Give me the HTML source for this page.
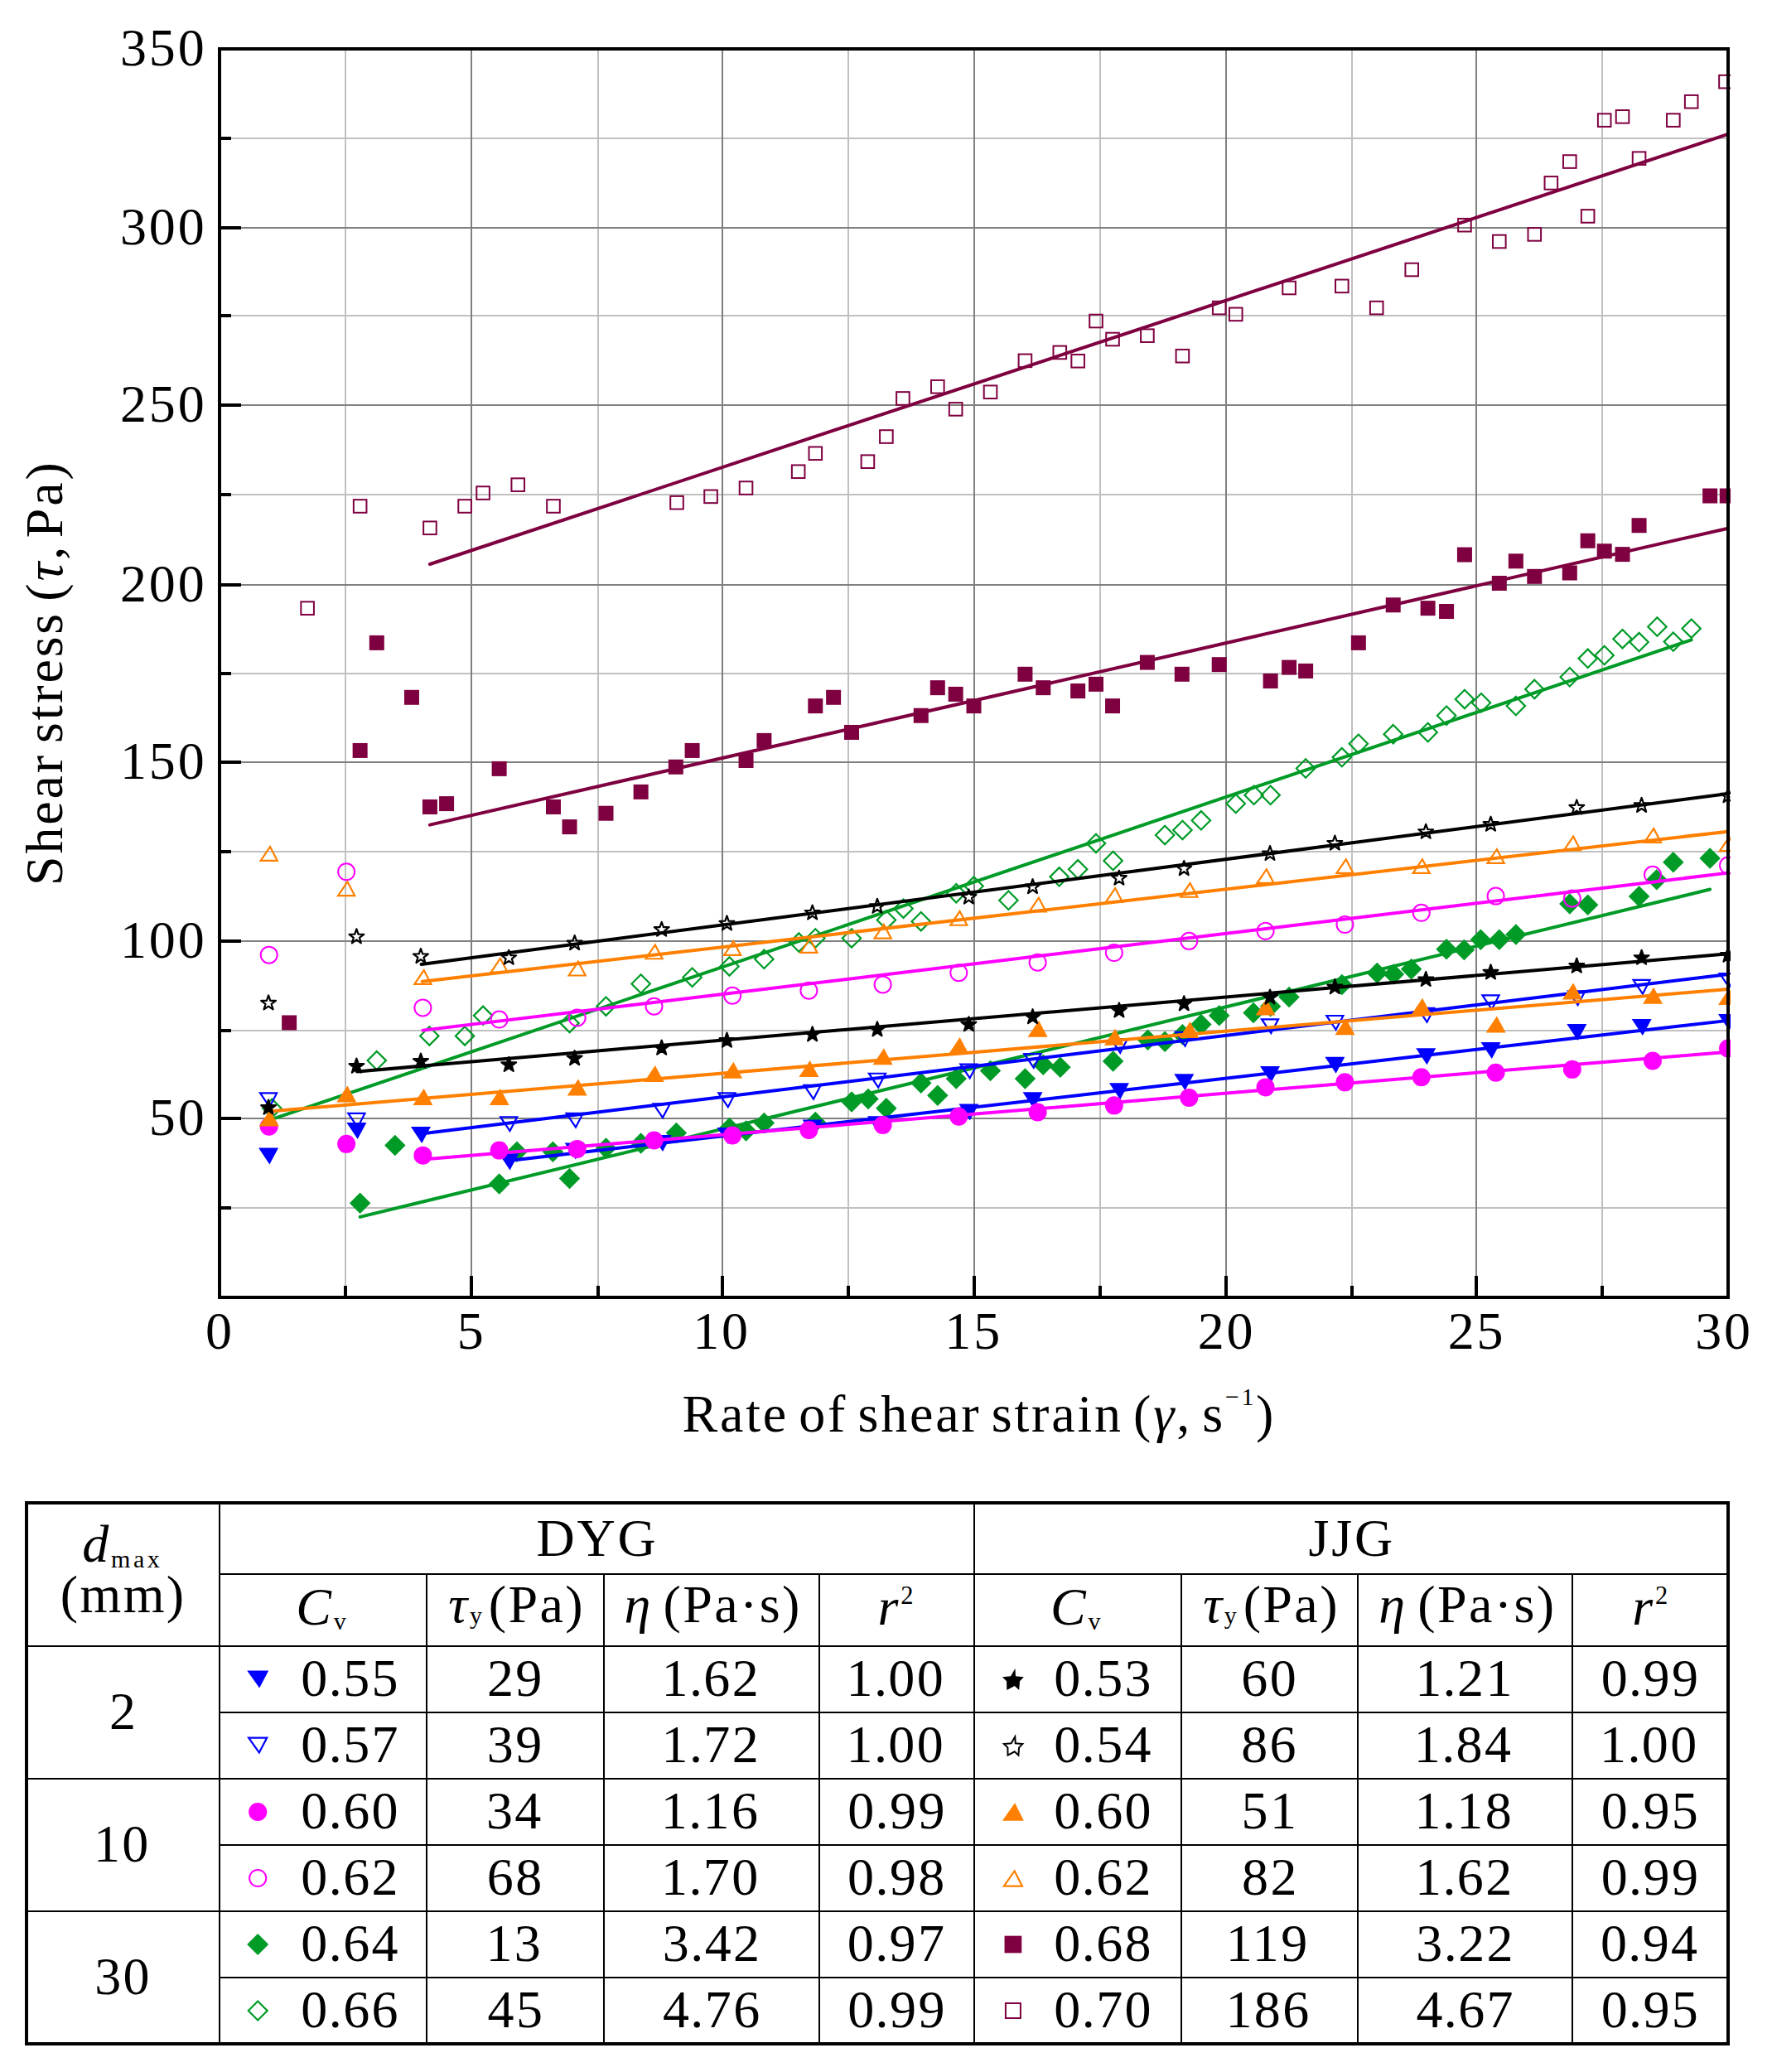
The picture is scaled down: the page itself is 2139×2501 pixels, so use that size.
<!DOCTYPE html>
<html lang="en"><head><meta charset="utf-8"><title>Shear stress vs rate of shear strain</title>
<style>
html,body{margin:0;padding:0;background:#fff;}
body{width:2139px;height:2501px;overflow:hidden;}
svg{display:block;}
text{font-family:"Liberation Serif",serif;fill:#000;}
.t{font-size:64px;letter-spacing:2.8px;word-spacing:-6.5px;}
.n{letter-spacing:2.4px;}
</style></head><body>
<svg width="2139" height="2501" viewBox="0 0 2139 2501" role="img" aria-label="Shear stress versus rate of shear strain for DYG and JJG samples, with fitted Bingham parameters">
<rect width="2139" height="2501" fill="#fff"/>
<g stroke-width="2" fill="none">
<line x1="417" y1="59" x2="417" y2="1566" stroke="#c0c0c0"/>
<line x1="722" y1="59" x2="722" y2="1566" stroke="#c0c0c0"/>
<line x1="1024" y1="59" x2="1024" y2="1566" stroke="#c0c0c0"/>
<line x1="1328" y1="59" x2="1328" y2="1566" stroke="#c0c0c0"/>
<line x1="1632" y1="59" x2="1632" y2="1566" stroke="#c0c0c0"/>
<line x1="1934" y1="59" x2="1934" y2="1566" stroke="#c0c0c0"/>
<line x1="265" y1="167" x2="2086" y2="167" stroke="#c0c0c0"/>
<line x1="265" y1="381" x2="2086" y2="381" stroke="#c0c0c0"/>
<line x1="265" y1="597" x2="2086" y2="597" stroke="#c0c0c0"/>
<line x1="265" y1="813" x2="2086" y2="813" stroke="#c0c0c0"/>
<line x1="265" y1="1028" x2="2086" y2="1028" stroke="#c0c0c0"/>
<line x1="265" y1="1244" x2="2086" y2="1244" stroke="#c0c0c0"/>
<line x1="265" y1="1458" x2="2086" y2="1458" stroke="#c0c0c0"/>
<line x1="569" y1="59" x2="569" y2="1566" stroke="#808080"/>
<line x1="872" y1="59" x2="872" y2="1566" stroke="#808080"/>
<line x1="1176" y1="59" x2="1176" y2="1566" stroke="#808080"/>
<line x1="1480" y1="59" x2="1480" y2="1566" stroke="#808080"/>
<line x1="1782" y1="59" x2="1782" y2="1566" stroke="#808080"/>
<line x1="265" y1="275" x2="2086" y2="275" stroke="#808080"/>
<line x1="265" y1="489" x2="2086" y2="489" stroke="#808080"/>
<line x1="265" y1="706" x2="2086" y2="706" stroke="#808080"/>
<line x1="265" y1="920" x2="2086" y2="920" stroke="#808080"/>
<line x1="265" y1="1136" x2="2086" y2="1136" stroke="#808080"/>
<line x1="265" y1="1350" x2="2086" y2="1350" stroke="#808080"/>
</g>
<defs><clipPath id="pc"><rect x="265" y="59" width="1824" height="1507"/></clipPath></defs>
<g clip-path="url(#pc)">
<g>
<polygon points="434.64,1439.58 447.39,1452.33 434.64,1465.08 421.89,1452.33" fill="#009b27"/>
<polygon points="476.79,1369.83 489.54,1382.58 476.79,1395.33 464.04,1382.58" fill="#009b27"/>
<polygon points="602.62,1416.33 615.37,1429.08 602.62,1441.83 589.87,1429.08" fill="#009b27"/>
<polygon points="624,1377.58 636.75,1390.33 624,1403.08 611.25,1390.33" fill="#009b27"/>
<polygon points="667.37,1377.58 680.12,1390.33 667.37,1403.08 654.62,1390.33" fill="#009b27"/>
<polygon points="687.52,1409.87 700.27,1422.62 687.52,1435.37 674.77,1422.62" fill="#009b27"/>
<polygon points="731.5,1373.27 744.25,1386.02 731.5,1398.77 718.75,1386.02" fill="#009b27"/>
<polygon points="773.65,1367.24 786.4,1379.99 773.65,1392.74 760.9,1379.99" fill="#009b27"/>
<polygon points="816.41,1354.76 829.16,1367.51 816.41,1380.26 803.66,1367.51" fill="#009b27"/>
<polygon points="880.5,1348.73 893.25,1361.48 880.5,1374.23 867.75,1361.48" fill="#009b27"/>
<polygon points="900.53,1352.17 913.28,1364.92 900.53,1377.67 887.78,1364.92" fill="#009b27"/>
<polygon points="922.38,1342.7 935.13,1355.45 922.38,1368.2 909.63,1355.45" fill="#009b27"/>
<polygon points="984.29,1341.84 997.04,1354.59 984.29,1367.34 971.54,1354.59" fill="#009b27"/>
<polygon points="1028,1317.3 1040.75,1330.05 1028,1342.8 1015.25,1330.05" fill="#009b27"/>
<polygon points="1048.03,1313.85 1060.78,1326.6 1048.03,1339.35 1035.28,1326.6" fill="#009b27"/>
<polygon points="1069.88,1325.05 1082.63,1337.8 1069.88,1350.55 1057.13,1337.8" fill="#009b27"/>
<polygon points="1111.76,1294.48 1124.51,1307.23 1111.76,1319.98 1099.01,1307.23" fill="#009b27"/>
<polygon points="1131.8,1309.55 1144.55,1322.3 1131.8,1335.05 1119.05,1322.3" fill="#009b27"/>
<polygon points="1154.26,1289.31 1167.01,1302.06 1154.26,1314.81 1141.51,1302.06" fill="#009b27"/>
<polygon points="1195.53,1279.84 1208.28,1292.59 1195.53,1305.34 1182.78,1292.59" fill="#009b27"/>
<polygon points="1237.41,1289.31 1250.16,1302.06 1237.41,1314.81 1224.66,1302.06" fill="#009b27"/>
<polygon points="1259.27,1272.52 1272.02,1285.27 1259.27,1298.02 1246.52,1285.27" fill="#009b27"/>
<polygon points="1279.9,1275.53 1292.65,1288.28 1279.9,1301.03 1267.15,1288.28" fill="#009b27"/>
<polygon points="1343.64,1268.21 1356.39,1280.96 1343.64,1293.71 1330.89,1280.96" fill="#009b27"/>
<polygon points="1385.52,1242.38 1398.27,1255.13 1385.52,1267.88 1372.77,1255.13" fill="#009b27"/>
<polygon points="1406.16,1244.53 1418.91,1257.28 1406.16,1270.03 1393.41,1257.28" fill="#009b27"/>
<polygon points="1427.4,1235.92 1440.15,1248.67 1427.4,1261.42 1414.65,1248.67" fill="#009b27"/>
<polygon points="1449.86,1223.86 1462.61,1236.61 1449.86,1249.36 1437.11,1236.61" fill="#009b27"/>
<polygon points="1471.72,1213.1 1484.47,1225.85 1471.72,1238.6 1458.97,1225.85" fill="#009b27"/>
<polygon points="1512.99,1209.65 1525.74,1222.4 1512.99,1235.15 1500.24,1222.4" fill="#009b27"/>
<polygon points="1533.63,1201.9 1546.38,1214.65 1533.63,1227.4 1520.88,1214.65" fill="#009b27"/>
<polygon points="1556.09,1190.71 1568.84,1203.46 1556.09,1216.21 1543.34,1203.46" fill="#009b27"/>
<polygon points="1619.82,1175.64 1632.57,1188.39 1619.82,1201.14 1607.07,1188.39" fill="#009b27"/>
<polygon points="1662.31,1161.86 1675.06,1174.61 1662.31,1187.36 1649.56,1174.61" fill="#009b27"/>
<polygon points="1682.35,1163.15 1695.1,1175.9 1682.35,1188.65 1669.6,1175.9" fill="#009b27"/>
<polygon points="1703.59,1157.12 1716.34,1169.87 1703.59,1182.62 1690.84,1169.87" fill="#009b27"/>
<polygon points="1746.08,1133.01 1758.83,1145.76 1746.08,1158.51 1733.33,1145.76" fill="#009b27"/>
<polygon points="1767.33,1133.87 1780.08,1146.62 1767.33,1159.37 1754.58,1146.62" fill="#009b27"/>
<polygon points="1787.36,1121.39 1800.11,1134.14 1787.36,1146.89 1774.61,1134.14" fill="#009b27"/>
<polygon points="1809.81,1121.39 1822.56,1134.14 1809.81,1146.89 1797.06,1134.14" fill="#009b27"/>
<polygon points="1829.85,1115.36 1842.6,1128.11 1829.85,1140.86 1817.1,1128.11" fill="#009b27"/>
<polygon points="1894.8,1078.33 1907.55,1091.08 1894.8,1103.83 1882.05,1091.08" fill="#009b27"/>
<polygon points="1916.65,1079.62 1929.4,1092.37 1916.65,1105.12 1903.9,1092.37" fill="#009b27"/>
<polygon points="1978.56,1069.29 1991.31,1082.04 1978.56,1094.79 1965.81,1082.04" fill="#009b27"/>
<polygon points="1999.81,1049.05 2012.56,1061.8 1999.81,1074.55 1987.06,1061.8" fill="#009b27"/>
<polygon points="2019.84,1027.95 2032.59,1040.7 2019.84,1053.45 2007.09,1040.7" fill="#009b27"/>
<polygon points="2064.15,1023.22 2076.9,1035.97 2064.15,1048.72 2051.4,1035.97" fill="#009b27"/>
<line x1="434.64" y1="1468.87" x2="2064.15" y2="1073.56" stroke="#009b27" stroke-width="4" stroke-linecap="round"/>
</g>
<g>
<polygon points="328.36,1326.6 339.55,1337.8 328.36,1348.99 317.17,1337.8" fill="none" stroke="#009b27" stroke-width="2.2" stroke-linejoin="miter" stroke-miterlimit="6"/>
<polygon points="454.8,1268.91 465.99,1280.1 454.8,1291.29 443.61,1280.1" fill="none" stroke="#009b27" stroke-width="2.2" stroke-linejoin="miter" stroke-miterlimit="6"/>
<polygon points="518.33,1239.2 529.52,1250.39 518.33,1261.59 507.13,1250.39" fill="none" stroke="#009b27" stroke-width="2.2" stroke-linejoin="miter" stroke-miterlimit="6"/>
<polygon points="561.08,1239.2 572.28,1250.39 561.08,1261.59 549.89,1250.39" fill="none" stroke="#009b27" stroke-width="2.2" stroke-linejoin="miter" stroke-miterlimit="6"/>
<polygon points="583.07,1214.65 594.27,1225.85 583.07,1237.04 571.88,1225.85" fill="none" stroke="#009b27" stroke-width="2.2" stroke-linejoin="miter" stroke-miterlimit="6"/>
<polygon points="687.52,1223.7 698.72,1234.89 687.52,1246.08 676.33,1234.89" fill="none" stroke="#009b27" stroke-width="2.2" stroke-linejoin="miter" stroke-miterlimit="6"/>
<polygon points="731.5,1203.46 742.7,1214.65 731.5,1225.85 720.31,1214.65" fill="none" stroke="#009b27" stroke-width="2.2" stroke-linejoin="miter" stroke-miterlimit="6"/>
<polygon points="773.65,1176.33 784.84,1187.53 773.65,1198.72 762.46,1187.53" fill="none" stroke="#009b27" stroke-width="2.2" stroke-linejoin="miter" stroke-miterlimit="6"/>
<polygon points="835.58,1168.58 846.77,1179.78 835.58,1190.97 824.39,1179.78" fill="none" stroke="#009b27" stroke-width="2.2" stroke-linejoin="miter" stroke-miterlimit="6"/>
<polygon points="880.5,1155.24 891.69,1166.43 880.5,1177.62 869.3,1166.43" fill="none" stroke="#009b27" stroke-width="2.2" stroke-linejoin="miter" stroke-miterlimit="6"/>
<polygon points="922.38,1146.62 933.58,1157.82 922.38,1169.01 911.19,1157.82" fill="none" stroke="#009b27" stroke-width="2.2" stroke-linejoin="miter" stroke-miterlimit="6"/>
<polygon points="964.26,1126.39 975.46,1137.58 964.26,1148.78 953.07,1137.58" fill="none" stroke="#009b27" stroke-width="2.2" stroke-linejoin="miter" stroke-miterlimit="6"/>
<polygon points="984.29,1121.22 995.49,1132.41 984.29,1143.61 973.1,1132.41" fill="none" stroke="#009b27" stroke-width="2.2" stroke-linejoin="miter" stroke-miterlimit="6"/>
<polygon points="1028,1121.22 1039.19,1132.41 1028,1143.61 1016.8,1132.41" fill="none" stroke="#009b27" stroke-width="2.2" stroke-linejoin="miter" stroke-miterlimit="6"/>
<polygon points="1069.88,1099.26 1081.08,1110.46 1069.88,1121.65 1058.69,1110.46" fill="none" stroke="#009b27" stroke-width="2.2" stroke-linejoin="miter" stroke-miterlimit="6"/>
<polygon points="1090.52,1085.48 1101.71,1096.68 1090.52,1107.87 1079.33,1096.68" fill="none" stroke="#009b27" stroke-width="2.2" stroke-linejoin="miter" stroke-miterlimit="6"/>
<polygon points="1111.76,1100.98 1122.96,1112.18 1111.76,1123.37 1100.57,1112.18" fill="none" stroke="#009b27" stroke-width="2.2" stroke-linejoin="miter" stroke-miterlimit="6"/>
<polygon points="1154.26,1066.97 1165.45,1078.16 1154.26,1089.36 1143.06,1078.16" fill="none" stroke="#009b27" stroke-width="2.2" stroke-linejoin="miter" stroke-miterlimit="6"/>
<polygon points="1175.5,1058.36 1186.69,1069.55 1175.5,1080.75 1164.31,1069.55" fill="none" stroke="#009b27" stroke-width="2.2" stroke-linejoin="miter" stroke-miterlimit="6"/>
<polygon points="1217.38,1075.58 1228.58,1086.77 1217.38,1097.97 1206.19,1086.77" fill="none" stroke="#009b27" stroke-width="2.2" stroke-linejoin="miter" stroke-miterlimit="6"/>
<polygon points="1278.69,1047.16 1289.88,1058.36 1278.69,1069.55 1267.5,1058.36" fill="none" stroke="#009b27" stroke-width="2.2" stroke-linejoin="miter" stroke-miterlimit="6"/>
<polygon points="1301.15,1038.12 1312.34,1049.31 1301.15,1060.51 1289.95,1049.31" fill="none" stroke="#009b27" stroke-width="2.2" stroke-linejoin="miter" stroke-miterlimit="6"/>
<polygon points="1323,1006.69 1334.2,1017.88 1323,1029.08 1311.81,1017.88" fill="none" stroke="#009b27" stroke-width="2.2" stroke-linejoin="miter" stroke-miterlimit="6"/>
<polygon points="1343.64,1027.79 1354.83,1038.98 1343.64,1050.17 1332.44,1038.98" fill="none" stroke="#009b27" stroke-width="2.2" stroke-linejoin="miter" stroke-miterlimit="6"/>
<polygon points="1406.16,996.79 1417.35,1007.98 1406.16,1019.17 1394.97,1007.98" fill="none" stroke="#009b27" stroke-width="2.2" stroke-linejoin="miter" stroke-miterlimit="6"/>
<polygon points="1427.4,990.76 1438.6,1001.95 1427.4,1013.15 1416.21,1001.95" fill="none" stroke="#009b27" stroke-width="2.2" stroke-linejoin="miter" stroke-miterlimit="6"/>
<polygon points="1449.86,979.13 1461.06,990.33 1449.86,1001.52 1438.67,990.33" fill="none" stroke="#009b27" stroke-width="2.2" stroke-linejoin="miter" stroke-miterlimit="6"/>
<polygon points="1491.75,958.89 1502.94,970.09 1491.75,981.28 1480.55,970.09" fill="none" stroke="#009b27" stroke-width="2.2" stroke-linejoin="miter" stroke-miterlimit="6"/>
<polygon points="1513.6,948.56 1524.79,959.76 1513.6,970.95 1502.4,959.76" fill="none" stroke="#009b27" stroke-width="2.2" stroke-linejoin="miter" stroke-miterlimit="6"/>
<polygon points="1533.63,948.56 1544.82,959.76 1533.63,970.95 1522.44,959.76" fill="none" stroke="#009b27" stroke-width="2.2" stroke-linejoin="miter" stroke-miterlimit="6"/>
<polygon points="1576.12,916.27 1587.31,927.46 1576.12,938.66 1564.93,927.46" fill="none" stroke="#009b27" stroke-width="2.2" stroke-linejoin="miter" stroke-miterlimit="6"/>
<polygon points="1619.82,902.92 1631.02,914.11 1619.82,925.31 1608.63,914.11" fill="none" stroke="#009b27" stroke-width="2.2" stroke-linejoin="miter" stroke-miterlimit="6"/>
<polygon points="1639.85,886.56 1651.05,897.75 1639.85,908.95 1628.66,897.75" fill="none" stroke="#009b27" stroke-width="2.2" stroke-linejoin="miter" stroke-miterlimit="6"/>
<polygon points="1681.74,874.93 1692.93,886.13 1681.74,897.32 1670.54,886.13" fill="none" stroke="#009b27" stroke-width="2.2" stroke-linejoin="miter" stroke-miterlimit="6"/>
<polygon points="1723.62,872.78 1734.82,883.97 1723.62,895.17 1712.43,883.97" fill="none" stroke="#009b27" stroke-width="2.2" stroke-linejoin="miter" stroke-miterlimit="6"/>
<polygon points="1746.08,852.54 1757.27,863.74 1746.08,874.93 1734.89,863.74" fill="none" stroke="#009b27" stroke-width="2.2" stroke-linejoin="miter" stroke-miterlimit="6"/>
<polygon points="1767.93,832.74 1779.13,843.93 1767.93,855.13 1756.74,843.93" fill="none" stroke="#009b27" stroke-width="2.2" stroke-linejoin="miter" stroke-miterlimit="6"/>
<polygon points="1787.96,837.04 1799.16,848.24 1787.96,859.43 1776.77,848.24" fill="none" stroke="#009b27" stroke-width="2.2" stroke-linejoin="miter" stroke-miterlimit="6"/>
<polygon points="1829.85,840.92 1841.04,852.11 1829.85,863.31 1818.65,852.11" fill="none" stroke="#009b27" stroke-width="2.2" stroke-linejoin="miter" stroke-miterlimit="6"/>
<polygon points="1852.3,820.68 1863.5,831.88 1852.3,843.07 1841.11,831.88" fill="none" stroke="#009b27" stroke-width="2.2" stroke-linejoin="miter" stroke-miterlimit="6"/>
<polygon points="1894.8,806.04 1905.99,817.24 1894.8,828.43 1883.6,817.24" fill="none" stroke="#009b27" stroke-width="2.2" stroke-linejoin="miter" stroke-miterlimit="6"/>
<polygon points="1916.65,783.65 1927.84,794.85 1916.65,806.04 1905.45,794.85" fill="none" stroke="#009b27" stroke-width="2.2" stroke-linejoin="miter" stroke-miterlimit="6"/>
<polygon points="1936.68,779.78 1947.87,790.97 1936.68,802.17 1925.48,790.97" fill="none" stroke="#009b27" stroke-width="2.2" stroke-linejoin="miter" stroke-miterlimit="6"/>
<polygon points="1958.53,759.97 1969.72,771.17 1958.53,782.36 1947.34,771.17" fill="none" stroke="#009b27" stroke-width="2.2" stroke-linejoin="miter" stroke-miterlimit="6"/>
<polygon points="1978.56,763.85 1989.76,775.04 1978.56,786.23 1967.37,775.04" fill="none" stroke="#009b27" stroke-width="2.2" stroke-linejoin="miter" stroke-miterlimit="6"/>
<polygon points="2000.41,745.33 2011.61,756.53 2000.41,767.72 1989.22,756.53" fill="none" stroke="#009b27" stroke-width="2.2" stroke-linejoin="miter" stroke-miterlimit="6"/>
<polygon points="2019.84,763.42 2031.03,774.61 2019.84,785.8 2008.64,774.61" fill="none" stroke="#009b27" stroke-width="2.2" stroke-linejoin="miter" stroke-miterlimit="6"/>
<polygon points="2041.69,747.48 2052.88,758.68 2041.69,769.87 2030.49,758.68" fill="none" stroke="#009b27" stroke-width="2.2" stroke-linejoin="miter" stroke-miterlimit="6"/>
<line x1="327.75" y1="1351.06" x2="2041.69" y2="772.35" stroke="#009b27" stroke-width="4" stroke-linecap="round"/>
</g>
<g>
<rect x="340.13" y="1225.46" width="18" height="18" fill="#7f0040"/>
<rect x="425.64" y="896.93" width="18" height="18" fill="#7f0040"/>
<rect x="445.8" y="766.9" width="18" height="18" fill="#7f0040"/>
<rect x="487.95" y="832.78" width="18" height="18" fill="#7f0040"/>
<rect x="509.94" y="964.96" width="18" height="18" fill="#7f0040"/>
<rect x="530.09" y="961.09" width="18" height="18" fill="#7f0040"/>
<rect x="593.62" y="918.89" width="18" height="18" fill="#7f0040"/>
<rect x="658.98" y="964.96" width="18" height="18" fill="#7f0040"/>
<rect x="678.52" y="989.08" width="18" height="18" fill="#7f0040"/>
<rect x="722.5" y="972.71" width="18" height="18" fill="#7f0040"/>
<rect x="764.65" y="946.88" width="18" height="18" fill="#7f0040"/>
<rect x="806.8" y="916.74" width="18" height="18" fill="#7f0040"/>
<rect x="826.58" y="896.93" width="18" height="18" fill="#7f0040"/>
<rect x="891.53" y="908.99" width="18" height="18" fill="#7f0040"/>
<rect x="913.38" y="884.88" width="18" height="18" fill="#7f0040"/>
<rect x="975.29" y="843.11" width="18" height="18" fill="#7f0040"/>
<rect x="997.15" y="832.78" width="18" height="18" fill="#7f0040"/>
<rect x="1019" y="874.97" width="18" height="18" fill="#7f0040"/>
<rect x="1102.76" y="854.74" width="18" height="18" fill="#7f0040"/>
<rect x="1122.8" y="821.15" width="18" height="18" fill="#7f0040"/>
<rect x="1144.65" y="828.9" width="18" height="18" fill="#7f0040"/>
<rect x="1166.5" y="843.11" width="18" height="18" fill="#7f0040"/>
<rect x="1228.41" y="804.79" width="18" height="18" fill="#7f0040"/>
<rect x="1250.27" y="821.15" width="18" height="18" fill="#7f0040"/>
<rect x="1292.15" y="825.03" width="18" height="18" fill="#7f0040"/>
<rect x="1314" y="816.85" width="18" height="18" fill="#7f0040"/>
<rect x="1334.03" y="843.11" width="18" height="18" fill="#7f0040"/>
<rect x="1375.91" y="790.58" width="18" height="18" fill="#7f0040"/>
<rect x="1417.8" y="804.79" width="18" height="18" fill="#7f0040"/>
<rect x="1462.72" y="793.17" width="18" height="18" fill="#7f0040"/>
<rect x="1524.63" y="812.97" width="18" height="18" fill="#7f0040"/>
<rect x="1547.09" y="796.61" width="18" height="18" fill="#7f0040"/>
<rect x="1567.12" y="800.92" width="18" height="18" fill="#7f0040"/>
<rect x="1630.85" y="766.9" width="18" height="18" fill="#7f0040"/>
<rect x="1672.74" y="721.26" width="18" height="18" fill="#7f0040"/>
<rect x="1714.62" y="725.14" width="18" height="18" fill="#7f0040"/>
<rect x="1737.08" y="729.01" width="18" height="18" fill="#7f0040"/>
<rect x="1758.93" y="660.55" width="18" height="18" fill="#7f0040"/>
<rect x="1800.81" y="695" width="18" height="18" fill="#7f0040"/>
<rect x="1820.85" y="668.3" width="18" height="18" fill="#7f0040"/>
<rect x="1843.3" y="686.82" width="18" height="18" fill="#7f0040"/>
<rect x="1885.8" y="682.51" width="18" height="18" fill="#7f0040"/>
<rect x="1907.65" y="643.76" width="18" height="18" fill="#7f0040"/>
<rect x="1927.68" y="656.24" width="18" height="18" fill="#7f0040"/>
<rect x="1949.53" y="660.12" width="18" height="18" fill="#7f0040"/>
<rect x="1969.56" y="625.24" width="18" height="18" fill="#7f0040"/>
<rect x="2055.15" y="589.51" width="18" height="18" fill="#7f0040"/>
<rect x="2075.79" y="589.51" width="18" height="18" fill="#7f0040"/>
<line x1="518.94" y1="995.62" x2="2086" y2="637.69" stroke="#7f0040" stroke-width="4" stroke-linecap="round"/>
</g>
<g>
<rect x="363.32" y="726.34" width="15.6" height="15.6" fill="none" stroke="#7f0040" stroke-width="2"/>
<rect x="426.84" y="603.19" width="15.6" height="15.6" fill="none" stroke="#7f0040" stroke-width="2"/>
<rect x="511.14" y="629.46" width="15.6" height="15.6" fill="none" stroke="#7f0040" stroke-width="2"/>
<rect x="553.28" y="603.19" width="15.6" height="15.6" fill="none" stroke="#7f0040" stroke-width="2"/>
<rect x="575.27" y="587.26" width="15.6" height="15.6" fill="none" stroke="#7f0040" stroke-width="2"/>
<rect x="617.42" y="577.36" width="15.6" height="15.6" fill="none" stroke="#7f0040" stroke-width="2"/>
<rect x="660.18" y="603.19" width="15.6" height="15.6" fill="none" stroke="#7f0040" stroke-width="2"/>
<rect x="809.22" y="598.89" width="15.6" height="15.6" fill="none" stroke="#7f0040" stroke-width="2"/>
<rect x="850.24" y="591.57" width="15.6" height="15.6" fill="none" stroke="#7f0040" stroke-width="2"/>
<rect x="892.73" y="581.23" width="15.6" height="15.6" fill="none" stroke="#7f0040" stroke-width="2"/>
<rect x="955.86" y="561.43" width="15.6" height="15.6" fill="none" stroke="#7f0040" stroke-width="2"/>
<rect x="976.5" y="539.47" width="15.6" height="15.6" fill="none" stroke="#7f0040" stroke-width="2"/>
<rect x="1039.62" y="549.37" width="15.6" height="15.6" fill="none" stroke="#7f0040" stroke-width="2"/>
<rect x="1062.08" y="519.23" width="15.6" height="15.6" fill="none" stroke="#7f0040" stroke-width="2"/>
<rect x="1082.11" y="473.16" width="15.6" height="15.6" fill="none" stroke="#7f0040" stroke-width="2"/>
<rect x="1124" y="458.95" width="15.6" height="15.6" fill="none" stroke="#7f0040" stroke-width="2"/>
<rect x="1145.85" y="486.08" width="15.6" height="15.6" fill="none" stroke="#7f0040" stroke-width="2"/>
<rect x="1187.73" y="465.41" width="15.6" height="15.6" fill="none" stroke="#7f0040" stroke-width="2"/>
<rect x="1229.61" y="427.52" width="15.6" height="15.6" fill="none" stroke="#7f0040" stroke-width="2"/>
<rect x="1271.5" y="417.62" width="15.6" height="15.6" fill="none" stroke="#7f0040" stroke-width="2"/>
<rect x="1293.35" y="427.95" width="15.6" height="15.6" fill="none" stroke="#7f0040" stroke-width="2"/>
<rect x="1315.2" y="379.73" width="15.6" height="15.6" fill="none" stroke="#7f0040" stroke-width="2"/>
<rect x="1335.23" y="401.69" width="15.6" height="15.6" fill="none" stroke="#7f0040" stroke-width="2"/>
<rect x="1377.12" y="397.38" width="15.6" height="15.6" fill="none" stroke="#7f0040" stroke-width="2"/>
<rect x="1419.6" y="421.92" width="15.6" height="15.6" fill="none" stroke="#7f0040" stroke-width="2"/>
<rect x="1463.92" y="363.79" width="15.6" height="15.6" fill="none" stroke="#7f0040" stroke-width="2"/>
<rect x="1483.95" y="371.55" width="15.6" height="15.6" fill="none" stroke="#7f0040" stroke-width="2"/>
<rect x="1548.29" y="339.68" width="15.6" height="15.6" fill="none" stroke="#7f0040" stroke-width="2"/>
<rect x="1612.02" y="337.53" width="15.6" height="15.6" fill="none" stroke="#7f0040" stroke-width="2"/>
<rect x="1653.91" y="363.79" width="15.6" height="15.6" fill="none" stroke="#7f0040" stroke-width="2"/>
<rect x="1696.4" y="317.72" width="15.6" height="15.6" fill="none" stroke="#7f0040" stroke-width="2"/>
<rect x="1760.13" y="263.9" width="15.6" height="15.6" fill="none" stroke="#7f0040" stroke-width="2"/>
<rect x="1802.01" y="283.71" width="15.6" height="15.6" fill="none" stroke="#7f0040" stroke-width="2"/>
<rect x="1844.5" y="275.1" width="15.6" height="15.6" fill="none" stroke="#7f0040" stroke-width="2"/>
<rect x="1864.54" y="213.09" width="15.6" height="15.6" fill="none" stroke="#7f0040" stroke-width="2"/>
<rect x="1887" y="187.26" width="15.6" height="15.6" fill="none" stroke="#7f0040" stroke-width="2"/>
<rect x="1908.85" y="253.14" width="15.6" height="15.6" fill="none" stroke="#7f0040" stroke-width="2"/>
<rect x="1928.88" y="137.31" width="15.6" height="15.6" fill="none" stroke="#7f0040" stroke-width="2"/>
<rect x="1950.73" y="133.01" width="15.6" height="15.6" fill="none" stroke="#7f0040" stroke-width="2"/>
<rect x="1970.76" y="183.39" width="15.6" height="15.6" fill="none" stroke="#7f0040" stroke-width="2"/>
<rect x="2012.04" y="137.31" width="15.6" height="15.6" fill="none" stroke="#7f0040" stroke-width="2"/>
<rect x="2033.89" y="114.92" width="15.6" height="15.6" fill="none" stroke="#7f0040" stroke-width="2"/>
<rect x="2075.16" y="90.81" width="15.6" height="15.6" fill="none" stroke="#7f0040" stroke-width="2"/>
<line x1="518.94" y1="681.02" x2="2086" y2="161.91" stroke="#7f0040" stroke-width="4" stroke-linecap="round"/>
</g>
<g>
<polygon points="325.38,1405.49 336.08,1385.49 312.08,1385.49" fill="#0000ff"/>
<polygon points="431.67,1374.92 442.37,1354.92 418.37,1354.92" fill="#0000ff"/>
<polygon points="509.24,1380.09 519.94,1360.09 495.94,1360.09" fill="#0000ff"/>
<polygon points="615.53,1412.38 626.23,1392.38 602.23,1392.38" fill="#0000ff"/>
<polygon points="694.93,1399.47 705.63,1379.47 681.63,1379.47" fill="#0000ff"/>
<polygon points="799.99,1389.99 810.69,1369.99 786.69,1369.99" fill="#0000ff"/>
<polygon points="878.76,1380.95 889.46,1360.95 865.46,1360.95" fill="#0000ff"/>
<polygon points="981.95,1371.48 992.65,1351.48 968.65,1351.48" fill="#0000ff"/>
<polygon points="1060.26,1367.17 1070.96,1347.17 1046.96,1347.17" fill="#0000ff"/>
<polygon points="1170.73,1352.53 1181.43,1332.53 1157.43,1332.53" fill="#0000ff"/>
<polygon points="1247.82,1338.32 1258.52,1318.32 1234.52,1318.32" fill="#0000ff"/>
<polygon points="1352.22,1327.13 1362.92,1307.13 1338.92,1307.13" fill="#0000ff"/>
<polygon points="1430.53,1316.37 1441.23,1296.37 1417.23,1296.37" fill="#0000ff"/>
<polygon points="1534.32,1306.89 1545.02,1286.89 1521.02,1286.89" fill="#0000ff"/>
<polygon points="1612.63,1295.7 1623.33,1275.7 1599.33,1275.7" fill="#0000ff"/>
<polygon points="1722.49,1285.36 1733.19,1265.36 1709.19,1265.36" fill="#0000ff"/>
<polygon points="1800.8,1278.04 1811.5,1258.04 1787.5,1258.04" fill="#0000ff"/>
<polygon points="1904.59,1256.09 1915.29,1236.09 1891.29,1236.09" fill="#0000ff"/>
<polygon points="1982.9,1250.06 1993.6,1230.06 1969.6,1230.06" fill="#0000ff"/>
<polygon points="2087.3,1244.03 2098,1224.03 2074,1224.03" fill="#0000ff"/>
<line x1="614.23" y1="1401" x2="2086" y2="1231.88" stroke="#0000ff" stroke-width="4" stroke-linecap="round"/>
</g>
<g>
<polygon points="325.38,1336.19 334.14,1319.42 314.03,1319.42" fill="none" stroke="#0000ff" stroke-width="2.2" stroke-linejoin="miter" stroke-miterlimit="6"/>
<polygon points="431.67,1360.73 440.42,1343.97 420.31,1343.97" fill="none" stroke="#0000ff" stroke-width="2.2" stroke-linejoin="miter" stroke-miterlimit="6"/>
<polygon points="615.53,1365.03 624.28,1348.27 604.17,1348.27" fill="none" stroke="#0000ff" stroke-width="2.2" stroke-linejoin="miter" stroke-miterlimit="6"/>
<polygon points="694.93,1360.73 703.69,1343.97 683.58,1343.97" fill="none" stroke="#0000ff" stroke-width="2.2" stroke-linejoin="miter" stroke-miterlimit="6"/>
<polygon points="799.99,1349.1 808.75,1332.34 788.64,1332.34" fill="none" stroke="#0000ff" stroke-width="2.2" stroke-linejoin="miter" stroke-miterlimit="6"/>
<polygon points="878.76,1336.19 887.52,1319.42 867.41,1319.42" fill="none" stroke="#0000ff" stroke-width="2.2" stroke-linejoin="miter" stroke-miterlimit="6"/>
<polygon points="981.95,1326.71 990.71,1309.95 970.6,1309.95" fill="none" stroke="#0000ff" stroke-width="2.2" stroke-linejoin="miter" stroke-miterlimit="6"/>
<polygon points="1060.26,1312.51 1069.01,1295.74 1048.9,1295.74" fill="none" stroke="#0000ff" stroke-width="2.2" stroke-linejoin="miter" stroke-miterlimit="6"/>
<polygon points="1170.73,1301.31 1179.49,1284.55 1159.37,1284.55" fill="none" stroke="#0000ff" stroke-width="2.2" stroke-linejoin="miter" stroke-miterlimit="6"/>
<polygon points="1247.82,1288.82 1256.58,1272.06 1236.46,1272.06" fill="none" stroke="#0000ff" stroke-width="2.2" stroke-linejoin="miter" stroke-miterlimit="6"/>
<polygon points="1352.22,1270.74 1360.98,1253.98 1340.87,1253.98" fill="none" stroke="#0000ff" stroke-width="2.2" stroke-linejoin="miter" stroke-miterlimit="6"/>
<polygon points="1430.53,1262.56 1439.28,1245.8 1419.17,1245.8" fill="none" stroke="#0000ff" stroke-width="2.2" stroke-linejoin="miter" stroke-miterlimit="6"/>
<polygon points="1534.32,1247.06 1543.08,1230.3 1522.97,1230.3" fill="none" stroke="#0000ff" stroke-width="2.2" stroke-linejoin="miter" stroke-miterlimit="6"/>
<polygon points="1612.63,1242.75 1621.38,1225.99 1601.27,1225.99" fill="none" stroke="#0000ff" stroke-width="2.2" stroke-linejoin="miter" stroke-miterlimit="6"/>
<polygon points="1722.49,1233.71 1731.25,1216.95 1711.14,1216.95" fill="none" stroke="#0000ff" stroke-width="2.2" stroke-linejoin="miter" stroke-miterlimit="6"/>
<polygon points="1800.8,1218.21 1809.55,1201.45 1789.44,1201.45" fill="none" stroke="#0000ff" stroke-width="2.2" stroke-linejoin="miter" stroke-miterlimit="6"/>
<polygon points="1904.59,1213.04 1913.35,1196.28 1893.24,1196.28" fill="none" stroke="#0000ff" stroke-width="2.2" stroke-linejoin="miter" stroke-miterlimit="6"/>
<polygon points="1982.9,1199.7 1991.65,1182.93 1971.54,1182.93" fill="none" stroke="#0000ff" stroke-width="2.2" stroke-linejoin="miter" stroke-miterlimit="6"/>
<polygon points="2087.3,1191.95 2096.06,1175.18 2075.94,1175.18" fill="none" stroke="#0000ff" stroke-width="2.2" stroke-linejoin="miter" stroke-miterlimit="6"/>
<line x1="510.39" y1="1368.14" x2="2086" y2="1175.9" stroke="#0000ff" stroke-width="4" stroke-linecap="round"/>
</g>
<g>
<circle cx="324.69" cy="1359.76" r="11" fill="#ff00ff"/>
<circle cx="418.15" cy="1380.85" r="11" fill="#ff00ff"/>
<circle cx="510.39" cy="1394.63" r="11" fill="#ff00ff"/>
<circle cx="602.62" cy="1388.6" r="11" fill="#ff00ff"/>
<circle cx="696.69" cy="1386.88" r="11" fill="#ff00ff"/>
<circle cx="789.53" cy="1376.55" r="11" fill="#ff00ff"/>
<circle cx="884.14" cy="1370.52" r="11" fill="#ff00ff"/>
<circle cx="976.4" cy="1364.06" r="11" fill="#ff00ff"/>
<circle cx="1065.63" cy="1358.03" r="11" fill="#ff00ff"/>
<circle cx="1157.29" cy="1347.7" r="11" fill="#ff00ff"/>
<circle cx="1252.59" cy="1342.53" r="11" fill="#ff00ff"/>
<circle cx="1344.85" cy="1334.35" r="11" fill="#ff00ff"/>
<circle cx="1435.3" cy="1324.88" r="11" fill="#ff00ff"/>
<circle cx="1527.56" cy="1312.39" r="11" fill="#ff00ff"/>
<circle cx="1623.47" cy="1306.37" r="11" fill="#ff00ff"/>
<circle cx="1715.73" cy="1300.34" r="11" fill="#ff00ff"/>
<circle cx="1805.57" cy="1294.74" r="11" fill="#ff00ff"/>
<circle cx="1897.83" cy="1290.86" r="11" fill="#ff00ff"/>
<circle cx="1994.95" cy="1280.53" r="11" fill="#ff00ff"/>
<circle cx="2086" cy="1265.46" r="11" fill="#ff00ff"/>
<line x1="510.39" y1="1399.41" x2="2086" y2="1269.77" stroke="#ff00ff" stroke-width="4" stroke-linecap="round"/>
</g>
<g>
<circle cx="324.69" cy="1152.65" r="10" fill="none" stroke="#ff00ff" stroke-width="2"/>
<circle cx="418.15" cy="1052.33" r="10" fill="none" stroke="#ff00ff" stroke-width="2"/>
<circle cx="510.39" cy="1216.38" r="10" fill="none" stroke="#ff00ff" stroke-width="2"/>
<circle cx="602.62" cy="1230.58" r="10" fill="none" stroke="#ff00ff" stroke-width="2"/>
<circle cx="696.69" cy="1228.43" r="10" fill="none" stroke="#ff00ff" stroke-width="2"/>
<circle cx="789.53" cy="1214.65" r="10" fill="none" stroke="#ff00ff" stroke-width="2"/>
<circle cx="884.14" cy="1201.74" r="10" fill="none" stroke="#ff00ff" stroke-width="2"/>
<circle cx="976.4" cy="1195.71" r="10" fill="none" stroke="#ff00ff" stroke-width="2"/>
<circle cx="1065.63" cy="1188.39" r="10" fill="none" stroke="#ff00ff" stroke-width="2"/>
<circle cx="1157.29" cy="1174.18" r="10" fill="none" stroke="#ff00ff" stroke-width="2"/>
<circle cx="1252.59" cy="1161.69" r="10" fill="none" stroke="#ff00ff" stroke-width="2"/>
<circle cx="1344.85" cy="1150.07" r="10" fill="none" stroke="#ff00ff" stroke-width="2"/>
<circle cx="1435.3" cy="1135.86" r="10" fill="none" stroke="#ff00ff" stroke-width="2"/>
<circle cx="1527.56" cy="1123.8" r="10" fill="none" stroke="#ff00ff" stroke-width="2"/>
<circle cx="1623.47" cy="1116.05" r="10" fill="none" stroke="#ff00ff" stroke-width="2"/>
<circle cx="1715.73" cy="1101.84" r="10" fill="none" stroke="#ff00ff" stroke-width="2"/>
<circle cx="1805.57" cy="1081.61" r="10" fill="none" stroke="#ff00ff" stroke-width="2"/>
<circle cx="1897.83" cy="1084.62" r="10" fill="none" stroke="#ff00ff" stroke-width="2"/>
<circle cx="1994.95" cy="1055.77" r="10" fill="none" stroke="#ff00ff" stroke-width="2"/>
<circle cx="2086" cy="1044.58" r="10" fill="none" stroke="#ff00ff" stroke-width="2"/>
<line x1="510.39" y1="1243.62" x2="2086" y2="1053.62" stroke="#ff00ff" stroke-width="4" stroke-linecap="round"/>
</g>
<g>
<polygon points="325.99,1339.42 336.69,1359.42 312.69,1359.42" fill="#ff8000"/>
<polygon points="419.45,1310.57 430.15,1330.57 406.15,1330.57" fill="#ff8000"/>
<polygon points="511.69,1314.02 522.39,1334.02 498.39,1334.02" fill="#ff8000"/>
<polygon points="603.92,1314.02 614.62,1334.02 590.62,1334.02" fill="#ff8000"/>
<polygon points="697.99,1302.39 708.69,1322.39 684.69,1322.39" fill="#ff8000"/>
<polygon points="790.83,1286.03 801.53,1306.03 777.53,1306.03" fill="#ff8000"/>
<polygon points="885.44,1281.73 896.14,1301.73 872.14,1301.73" fill="#ff8000"/>
<polygon points="977.7,1280 988.4,1300 964.4,1300" fill="#ff8000"/>
<polygon points="1066.93,1265.36 1077.63,1285.36 1053.63,1285.36" fill="#ff8000"/>
<polygon points="1158.59,1252.02 1169.29,1272.02 1145.29,1272.02" fill="#ff8000"/>
<polygon points="1253.89,1231.78 1264.59,1251.78 1240.59,1251.78" fill="#ff8000"/>
<polygon points="1346.15,1241.68 1356.85,1261.68 1332.85,1261.68" fill="#ff8000"/>
<polygon points="1436.6,1233.07 1447.3,1253.07 1423.3,1253.07" fill="#ff8000"/>
<polygon points="1528.86,1205.51 1539.56,1225.51 1515.56,1225.51" fill="#ff8000"/>
<polygon points="1624.77,1229.2 1635.47,1249.2 1611.47,1249.2" fill="#ff8000"/>
<polygon points="1717.03,1204.65 1727.73,1224.65 1703.73,1224.65" fill="#ff8000"/>
<polygon points="1806.87,1226.61 1817.57,1246.61 1793.57,1246.61" fill="#ff8000"/>
<polygon points="1899.13,1186.57 1909.83,1206.57 1885.83,1206.57" fill="#ff8000"/>
<polygon points="1996.25,1191.74 2006.95,1211.74 1982.95,1211.74" fill="#ff8000"/>
<polygon points="2087.3,1193.03 2098,1213.03 2074,1213.03" fill="#ff8000"/>
<line x1="324.69" y1="1341.41" x2="2086" y2="1193.99" stroke="#ff8000" stroke-width="4" stroke-linecap="round"/>
</g>
<g>
<polygon points="325.99,1022.08 334.75,1038.84 314.64,1038.84" fill="none" stroke="#ff8000" stroke-width="2.2" stroke-linejoin="miter" stroke-miterlimit="6"/>
<polygon points="419.45,1064.27 428.21,1081.03 408.09,1081.03" fill="none" stroke="#ff8000" stroke-width="2.2" stroke-linejoin="miter" stroke-miterlimit="6"/>
<polygon points="511.69,1171.05 520.44,1187.82 500.33,1187.82" fill="none" stroke="#ff8000" stroke-width="2.2" stroke-linejoin="miter" stroke-miterlimit="6"/>
<polygon points="603.92,1156.85 612.68,1173.61 592.56,1173.61" fill="none" stroke="#ff8000" stroke-width="2.2" stroke-linejoin="miter" stroke-miterlimit="6"/>
<polygon points="697.99,1160.72 706.74,1177.48 686.63,1177.48" fill="none" stroke="#ff8000" stroke-width="2.2" stroke-linejoin="miter" stroke-miterlimit="6"/>
<polygon points="790.83,1140.48 799.59,1157.25 779.47,1157.25" fill="none" stroke="#ff8000" stroke-width="2.2" stroke-linejoin="miter" stroke-miterlimit="6"/>
<polygon points="885.44,1136.18 894.2,1152.94 874.08,1152.94" fill="none" stroke="#ff8000" stroke-width="2.2" stroke-linejoin="miter" stroke-miterlimit="6"/>
<polygon points="977.7,1133.16 986.46,1149.93 966.35,1149.93" fill="none" stroke="#ff8000" stroke-width="2.2" stroke-linejoin="miter" stroke-miterlimit="6"/>
<polygon points="1066.93,1115.94 1075.69,1132.7 1055.58,1132.7" fill="none" stroke="#ff8000" stroke-width="2.2" stroke-linejoin="miter" stroke-miterlimit="6"/>
<polygon points="1158.59,1100.01 1167.35,1116.77 1147.23,1116.77" fill="none" stroke="#ff8000" stroke-width="2.2" stroke-linejoin="miter" stroke-miterlimit="6"/>
<polygon points="1253.89,1083.65 1262.65,1100.41 1242.53,1100.41" fill="none" stroke="#ff8000" stroke-width="2.2" stroke-linejoin="miter" stroke-miterlimit="6"/>
<polygon points="1346.15,1072.02 1354.91,1088.78 1334.8,1088.78" fill="none" stroke="#ff8000" stroke-width="2.2" stroke-linejoin="miter" stroke-miterlimit="6"/>
<polygon points="1436.6,1065.99 1445.35,1082.76 1425.24,1082.76" fill="none" stroke="#ff8000" stroke-width="2.2" stroke-linejoin="miter" stroke-miterlimit="6"/>
<polygon points="1528.86,1049.2 1537.62,1065.96 1517.5,1065.96" fill="none" stroke="#ff8000" stroke-width="2.2" stroke-linejoin="miter" stroke-miterlimit="6"/>
<polygon points="1624.77,1037.15 1633.52,1053.91 1613.41,1053.91" fill="none" stroke="#ff8000" stroke-width="2.2" stroke-linejoin="miter" stroke-miterlimit="6"/>
<polygon points="1717.03,1037.15 1725.79,1053.91 1705.67,1053.91" fill="none" stroke="#ff8000" stroke-width="2.2" stroke-linejoin="miter" stroke-miterlimit="6"/>
<polygon points="1806.87,1025.09 1815.62,1041.85 1795.51,1041.85" fill="none" stroke="#ff8000" stroke-width="2.2" stroke-linejoin="miter" stroke-miterlimit="6"/>
<polygon points="1899.13,1009.59 1907.89,1026.35 1887.77,1026.35" fill="none" stroke="#ff8000" stroke-width="2.2" stroke-linejoin="miter" stroke-miterlimit="6"/>
<polygon points="1996.25,1000.12 2005.01,1016.88 1984.89,1016.88" fill="none" stroke="#ff8000" stroke-width="2.2" stroke-linejoin="miter" stroke-miterlimit="6"/>
<polygon points="2087.3,1010.45 2096.06,1027.21 2075.94,1027.21" fill="none" stroke="#ff8000" stroke-width="2.2" stroke-linejoin="miter" stroke-miterlimit="6"/>
<line x1="509.77" y1="1184.8" x2="2086" y2="1003.67" stroke="#ff8000" stroke-width="4" stroke-linecap="round"/>
</g>
<g>
<polygon points="324.08,1327.61 326.28,1333.94 332.98,1334.08 327.64,1338.13 329.58,1344.54 324.08,1340.71 318.58,1344.54 320.52,1338.13 315.18,1334.08 321.88,1333.94" fill="#000000" stroke="#000000" stroke-width="2.2" stroke-linejoin="round"/>
<polygon points="430.37,1277.66 432.57,1283.99 439.27,1284.13 433.93,1288.18 435.87,1294.59 430.37,1290.77 424.87,1294.59 426.81,1288.18 421.47,1284.13 428.17,1283.99" fill="#000000" stroke="#000000" stroke-width="2.2" stroke-linejoin="round"/>
<polygon points="507.94,1271.64 510.14,1277.97 516.84,1278.1 511.5,1282.15 513.44,1288.56 507.94,1284.74 502.44,1288.56 504.38,1282.15 499.04,1278.1 505.74,1277.97" fill="#000000" stroke="#000000" stroke-width="2.2" stroke-linejoin="round"/>
<polygon points="614.23,1275.94 616.43,1282.27 623.13,1282.41 617.79,1286.46 619.73,1292.87 614.23,1289.04 608.72,1292.87 610.67,1286.46 605.33,1282.41 612.03,1282.27" fill="#000000" stroke="#000000" stroke-width="2.2" stroke-linejoin="round"/>
<polygon points="693.63,1268.19 695.83,1274.52 702.53,1274.66 697.19,1278.71 699.13,1285.12 693.63,1281.29 688.13,1285.12 690.07,1278.71 684.73,1274.66 691.43,1274.52" fill="#000000" stroke="#000000" stroke-width="2.2" stroke-linejoin="round"/>
<polygon points="798.69,1255.71 800.89,1262.03 807.59,1262.17 802.25,1266.22 804.19,1272.63 798.69,1268.81 793.19,1272.63 795.13,1266.22 789.79,1262.17 796.49,1262.03" fill="#000000" stroke="#000000" stroke-width="2.2" stroke-linejoin="round"/>
<polygon points="877.46,1246.66 879.66,1252.99 886.36,1253.13 881.02,1257.18 882.96,1263.59 877.46,1259.76 871.96,1263.59 873.9,1257.18 868.56,1253.13 875.26,1252.99" fill="#000000" stroke="#000000" stroke-width="2.2" stroke-linejoin="round"/>
<polygon points="980.65,1239.34 982.85,1245.67 989.55,1245.81 984.21,1249.86 986.15,1256.27 980.65,1252.44 975.15,1256.27 977.09,1249.86 971.75,1245.81 978.45,1245.67" fill="#000000" stroke="#000000" stroke-width="2.2" stroke-linejoin="round"/>
<polygon points="1058.96,1233.32 1061.16,1239.65 1067.86,1239.78 1062.52,1243.83 1064.46,1250.24 1058.96,1246.42 1053.46,1250.24 1055.4,1243.83 1050.06,1239.78 1056.76,1239.65" fill="#000000" stroke="#000000" stroke-width="2.2" stroke-linejoin="round"/>
<polygon points="1169.43,1227.29 1171.63,1233.62 1178.33,1233.75 1172.99,1237.8 1174.93,1244.22 1169.43,1240.39 1163.93,1244.22 1165.87,1237.8 1160.53,1233.75 1167.23,1233.62" fill="#000000" stroke="#000000" stroke-width="2.2" stroke-linejoin="round"/>
<polygon points="1246.52,1218.25 1248.72,1224.58 1255.42,1224.71 1250.08,1228.76 1252.02,1235.17 1246.52,1231.35 1241.02,1235.17 1242.96,1228.76 1237.62,1224.71 1244.32,1224.58" fill="#000000" stroke="#000000" stroke-width="2.2" stroke-linejoin="round"/>
<polygon points="1350.92,1210.5 1353.12,1216.82 1359.82,1216.96 1354.48,1221.01 1356.42,1227.42 1350.92,1223.6 1345.42,1227.42 1347.36,1221.01 1342.02,1216.96 1348.72,1216.82" fill="#000000" stroke="#000000" stroke-width="2.2" stroke-linejoin="round"/>
<polygon points="1429.23,1202.31 1431.43,1208.64 1438.13,1208.78 1432.79,1212.83 1434.73,1219.24 1429.23,1215.42 1423.73,1219.24 1425.67,1212.83 1420.33,1208.78 1427.03,1208.64" fill="#000000" stroke="#000000" stroke-width="2.2" stroke-linejoin="round"/>
<polygon points="1533.02,1194.56 1535.22,1200.89 1541.92,1201.03 1536.58,1205.08 1538.52,1211.49 1533.02,1207.67 1527.52,1211.49 1529.46,1205.08 1524.12,1201.03 1530.82,1200.89" fill="#000000" stroke="#000000" stroke-width="2.2" stroke-linejoin="round"/>
<polygon points="1611.33,1182.08 1613.53,1188.41 1620.23,1188.54 1614.89,1192.59 1616.83,1199.01 1611.33,1195.18 1605.83,1199.01 1607.77,1192.59 1602.43,1188.54 1609.13,1188.41" fill="#000000" stroke="#000000" stroke-width="2.2" stroke-linejoin="round"/>
<polygon points="1721.19,1173.04 1723.39,1179.37 1730.09,1179.5 1724.75,1183.55 1726.69,1189.96 1721.19,1186.14 1715.69,1189.96 1717.63,1183.55 1712.29,1179.5 1718.99,1179.37" fill="#000000" stroke="#000000" stroke-width="2.2" stroke-linejoin="round"/>
<polygon points="1799.5,1164.42 1801.7,1170.75 1808.4,1170.89 1803.06,1174.94 1805,1181.35 1799.5,1177.53 1794,1181.35 1795.94,1174.94 1790.6,1170.89 1797.3,1170.75" fill="#000000" stroke="#000000" stroke-width="2.2" stroke-linejoin="round"/>
<polygon points="1903.29,1156.67 1905.49,1163 1912.19,1163.14 1906.85,1167.19 1908.79,1173.6 1903.29,1169.77 1897.79,1173.6 1899.73,1167.19 1894.39,1163.14 1901.09,1163" fill="#000000" stroke="#000000" stroke-width="2.2" stroke-linejoin="round"/>
<polygon points="1981.6,1146.77 1983.8,1153.1 1990.5,1153.24 1985.16,1157.29 1987.1,1163.7 1981.6,1159.87 1976.1,1163.7 1978.04,1157.29 1972.7,1153.24 1979.4,1153.1" fill="#000000" stroke="#000000" stroke-width="2.2" stroke-linejoin="round"/>
<polygon points="2086,1143.76 2088.2,1150.09 2094.9,1150.22 2089.56,1154.27 2091.5,1160.69 2086,1156.86 2080.5,1160.69 2082.44,1154.27 2077.1,1150.22 2083.8,1150.09" fill="#000000" stroke="#000000" stroke-width="2.2" stroke-linejoin="round"/>
<line x1="430.98" y1="1293.41" x2="2086" y2="1151.36" stroke="#000000" stroke-width="4" stroke-linecap="round"/>
</g>
<g>
<polygon points="324.08,1201.45 326.28,1207.78 332.98,1207.92 327.64,1211.97 329.58,1218.38 324.08,1214.55 318.58,1218.38 320.52,1211.97 315.18,1207.92 321.88,1207.78" fill="none" stroke="#000000" stroke-width="2.2" stroke-linejoin="round"/>
<polygon points="430.37,1121.37 432.57,1127.7 439.27,1127.83 433.93,1131.88 435.87,1138.3 430.37,1134.47 424.87,1138.3 426.81,1131.88 421.47,1127.83 428.17,1127.7" fill="none" stroke="#000000" stroke-width="2.2" stroke-linejoin="round"/>
<polygon points="507.94,1145.05 510.14,1151.38 516.84,1151.51 511.5,1155.56 513.44,1161.98 507.94,1158.15 502.44,1161.98 504.38,1155.56 499.04,1151.51 505.74,1151.38" fill="none" stroke="#000000" stroke-width="2.2" stroke-linejoin="round"/>
<polygon points="614.23,1146.77 616.43,1153.1 623.13,1153.24 617.79,1157.29 619.73,1163.7 614.23,1159.87 608.72,1163.7 610.67,1157.29 605.33,1153.24 612.03,1153.1" fill="none" stroke="#000000" stroke-width="2.2" stroke-linejoin="round"/>
<polygon points="693.63,1129.12 695.83,1135.45 702.53,1135.58 697.19,1139.63 699.13,1146.05 693.63,1142.22 688.13,1146.05 690.07,1139.63 684.73,1135.58 691.43,1135.45" fill="none" stroke="#000000" stroke-width="2.2" stroke-linejoin="round"/>
<polygon points="798.69,1112.76 800.89,1119.09 807.59,1119.22 802.25,1123.27 804.19,1129.68 798.69,1125.86 793.19,1129.68 795.13,1123.27 789.79,1119.22 796.49,1119.09" fill="none" stroke="#000000" stroke-width="2.2" stroke-linejoin="round"/>
<polygon points="877.46,1105.44 879.66,1111.77 886.36,1111.9 881.02,1115.95 882.96,1122.36 877.46,1118.54 871.96,1122.36 873.9,1115.95 868.56,1111.9 875.26,1111.77" fill="none" stroke="#000000" stroke-width="2.2" stroke-linejoin="round"/>
<polygon points="980.65,1092.52 982.85,1098.85 989.55,1098.98 984.21,1103.03 986.15,1109.45 980.65,1105.62 975.15,1109.45 977.09,1103.03 971.75,1098.98 978.45,1098.85" fill="none" stroke="#000000" stroke-width="2.2" stroke-linejoin="round"/>
<polygon points="1058.96,1084.77 1061.16,1091.1 1067.86,1091.23 1062.52,1095.28 1064.46,1101.7 1058.96,1097.87 1053.46,1101.7 1055.4,1095.28 1050.06,1091.23 1056.76,1091.1" fill="none" stroke="#000000" stroke-width="2.2" stroke-linejoin="round"/>
<polygon points="1169.43,1073.57 1171.63,1079.9 1178.33,1080.04 1172.99,1084.09 1174.93,1090.5 1169.43,1086.67 1163.93,1090.5 1165.87,1084.09 1160.53,1080.04 1167.23,1079.9" fill="none" stroke="#000000" stroke-width="2.2" stroke-linejoin="round"/>
<polygon points="1246.52,1061.09 1248.72,1067.42 1255.42,1067.55 1250.08,1071.6 1252.02,1078.02 1246.52,1074.19 1241.02,1078.02 1242.96,1071.6 1237.62,1067.55 1244.32,1067.42" fill="none" stroke="#000000" stroke-width="2.2" stroke-linejoin="round"/>
<polygon points="1350.92,1050.75 1353.12,1057.08 1359.82,1057.22 1354.48,1061.27 1356.42,1067.68 1350.92,1063.85 1345.42,1067.68 1347.36,1061.27 1342.02,1057.22 1348.72,1057.08" fill="none" stroke="#000000" stroke-width="2.2" stroke-linejoin="round"/>
<polygon points="1429.23,1039.13 1431.43,1045.46 1438.13,1045.59 1432.79,1049.64 1434.73,1056.06 1429.23,1052.23 1423.73,1056.06 1425.67,1049.64 1420.33,1045.59 1427.03,1045.46" fill="none" stroke="#000000" stroke-width="2.2" stroke-linejoin="round"/>
<polygon points="1533.02,1021.04 1535.22,1027.37 1541.92,1027.51 1536.58,1031.56 1538.52,1037.97 1533.02,1034.14 1527.52,1037.97 1529.46,1031.56 1524.12,1027.51 1530.82,1027.37" fill="none" stroke="#000000" stroke-width="2.2" stroke-linejoin="round"/>
<polygon points="1611.33,1008.56 1613.53,1014.89 1620.23,1015.02 1614.89,1019.07 1616.83,1025.49 1611.33,1021.66 1605.83,1025.49 1607.77,1019.07 1602.43,1015.02 1609.13,1014.89" fill="none" stroke="#000000" stroke-width="2.2" stroke-linejoin="round"/>
<polygon points="1721.19,994.78 1723.39,1001.11 1730.09,1001.24 1724.75,1005.29 1726.69,1011.71 1721.19,1007.88 1715.69,1011.71 1717.63,1005.29 1712.29,1001.24 1718.99,1001.11" fill="none" stroke="#000000" stroke-width="2.2" stroke-linejoin="round"/>
<polygon points="1799.5,985.74 1801.7,992.07 1808.4,992.2 1803.06,996.25 1805,1002.67 1799.5,998.84 1794,1002.67 1795.94,996.25 1790.6,992.2 1797.3,992.07" fill="none" stroke="#000000" stroke-width="2.2" stroke-linejoin="round"/>
<polygon points="1903.29,965.5 1905.49,971.83 1912.19,971.97 1906.85,976.01 1908.79,982.43 1903.29,978.6 1897.79,982.43 1899.73,976.01 1894.39,971.97 1901.09,971.83" fill="none" stroke="#000000" stroke-width="2.2" stroke-linejoin="round"/>
<polygon points="1981.6,962.92 1983.8,969.25 1990.5,969.38 1985.16,973.43 1987.1,979.85 1981.6,976.02 1976.1,979.85 1978.04,973.43 1972.7,969.38 1979.4,969.25" fill="none" stroke="#000000" stroke-width="2.2" stroke-linejoin="round"/>
<polygon points="2086,951.29 2088.2,957.62 2094.9,957.76 2089.56,961.81 2091.5,968.22 2086,964.39 2080.5,968.22 2082.44,961.81 2077.1,957.76 2083.8,957.62" fill="none" stroke="#000000" stroke-width="2.2" stroke-linejoin="round"/>
<line x1="508.55" y1="1163.92" x2="2086" y2="958.03" stroke="#000000" stroke-width="4" stroke-linecap="round"/>
</g>
</g>
<g stroke="#000" stroke-width="4">
<line x1="417" y1="1566" x2="417" y2="1552"/>
<line x1="569" y1="1566" x2="569" y2="1540"/>
<line x1="722" y1="1566" x2="722" y2="1552"/>
<line x1="872" y1="1566" x2="872" y2="1540"/>
<line x1="1024" y1="1566" x2="1024" y2="1552"/>
<line x1="1176" y1="1566" x2="1176" y2="1540"/>
<line x1="1328" y1="1566" x2="1328" y2="1552"/>
<line x1="1480" y1="1566" x2="1480" y2="1540"/>
<line x1="1632" y1="1566" x2="1632" y2="1552"/>
<line x1="1782" y1="1566" x2="1782" y2="1540"/>
<line x1="1934" y1="1566" x2="1934" y2="1552"/>
<line x1="265" y1="167" x2="279" y2="167"/>
<line x1="265" y1="275" x2="291" y2="275"/>
<line x1="265" y1="381" x2="279" y2="381"/>
<line x1="265" y1="489" x2="291" y2="489"/>
<line x1="265" y1="597" x2="279" y2="597"/>
<line x1="265" y1="706" x2="291" y2="706"/>
<line x1="265" y1="813" x2="279" y2="813"/>
<line x1="265" y1="920" x2="291" y2="920"/>
<line x1="265" y1="1028" x2="279" y2="1028"/>
<line x1="265" y1="1136" x2="291" y2="1136"/>
<line x1="265" y1="1244" x2="279" y2="1244"/>
<line x1="265" y1="1350" x2="291" y2="1350"/>
<line x1="265" y1="1458" x2="279" y2="1458"/>
</g>
<rect x="265" y="59" width="1821" height="1507" fill="none" stroke="#000" stroke-width="4"/>
<text class="t" x="248.1" y="1627.7">0</text>
<text class="t" x="551.69" y="1627.7">5</text>
<text class="t" x="836.31" y="1627.7">10</text>
<text class="t" x="1140.34" y="1627.7">15</text>
<text class="t" x="1445.71" y="1627.7">20</text>
<text class="t" x="1747.74" y="1627.7">25</text>
<text class="t" x="2046.19" y="1627.7">30</text>
<text class="t" x="145.04" y="79.3">350</text>
<text class="t" x="145.04" y="295.3">300</text>
<text class="t" x="145.04" y="509.3">250</text>
<text class="t" x="145.04" y="726.3">200</text>
<text class="t" x="145.04" y="940.3">150</text>
<text class="t" x="145.04" y="1156.3">100</text>
<text class="t" x="179.84" y="1370.3">50</text>
<text class="t" x="823.46" y="1727.7">Rate of shear strain (<tspan style="font-style:italic">γ</tspan>, s<tspan style="font-size:30px;letter-spacing:2.5px" dy="-31.6">−1</tspan><tspan dy="31.6">)</tspan></text>
<g transform="translate(75.3,1068.98) rotate(-90)"><text class="t" x="0" y="0">Shear stress (<tspan style="font-style:italic">τ</tspan><tspan style="word-spacing:-11px">, Pa)</tspan></text></g>
<g stroke="#000" fill="none">
<rect x="32" y="1814" width="2054" height="653" stroke-width="4"/>
<g stroke-width="2">
<line x1="265" y1="1814" x2="265" y2="2467"/>
<line x1="1176" y1="1814" x2="1176" y2="2467"/>
<line x1="515" y1="1900" x2="515" y2="2467"/>
<line x1="729" y1="1900" x2="729" y2="2467"/>
<line x1="989" y1="1900" x2="989" y2="2467"/>
<line x1="1426" y1="1900" x2="1426" y2="2467"/>
<line x1="1639" y1="1900" x2="1639" y2="2467"/>
<line x1="1898" y1="1900" x2="1898" y2="2467"/>
<line x1="265" y1="1900" x2="2086" y2="1900"/>
<line x1="32" y1="1987" x2="2086" y2="1987"/>
<line x1="32" y1="2147" x2="2086" y2="2147"/>
<line x1="32" y1="2307" x2="2086" y2="2307"/>
<line x1="265" y1="2067" x2="2086" y2="2067"/>
<line x1="265" y1="2227" x2="2086" y2="2227"/>
<line x1="265" y1="2387" x2="2086" y2="2387"/>
</g></g>
<text class="t" x="99.26" y="1885.3"><tspan style="font-style:italic">d</tspan><tspan style="font-size:30px;letter-spacing:3.5px" dy="6.6">max</tspan></text>
<text class="t n" x="72.81" y="1946.3">(mm)</text>
<text class="t" x="647.55" y="1877.6">DYG</text>
<text class="t" x="1579.51" y="1877.6">JJG</text>
<text class="t" x="357.28" y="1961.3"><tspan style="font-style:italic">C</tspan><tspan style="font-size:30px" dy="5.8">v</tspan></text>
<text class="t" x="541.34" y="1958.4"><tspan style="font-style:italic">τ</tspan><tspan style="font-size:30px" dy="1.5">y</tspan><tspan style="letter-spacing:2.4px" dy="-1.5" dx="5">(Pa)</tspan></text>
<text class="t" x="753.47" y="1958.4"><tspan style="font-style:italic">η</tspan><tspan style="letter-spacing:2.4px;word-spacing:-6px"> (Pa·s)</tspan></text>
<text class="t" x="1059.47" y="1961.3"><tspan style="font-style:italic">r</tspan><tspan style="font-size:30.5px" dy="-25.4">2</tspan></text>
<text class="t" x="1268.07" y="1961.3"><tspan style="font-style:italic">C</tspan><tspan style="font-size:30px" dy="5.8">v</tspan></text>
<text class="t" x="1452.14" y="1958.4"><tspan style="font-style:italic">τ</tspan><tspan style="font-size:30px" dy="1.5">y</tspan><tspan style="letter-spacing:2.4px" dy="-1.5" dx="5">(Pa)</tspan></text>
<text class="t" x="1664.27" y="1958.4"><tspan style="font-style:italic">η</tspan><tspan style="letter-spacing:2.4px;word-spacing:-6px"> (Pa·s)</tspan></text>
<text class="t" x="1970.27" y="1961.3"><tspan style="font-style:italic">r</tspan><tspan style="font-size:30.5px" dy="-25.4">2</tspan></text>
<text class="t n" x="363.36" y="2046.8">0<tspan dx="-1">.</tspan><tspan dx="-1">55</tspan></text>
<text class="t n" x="587.91" y="2046.8">29</text>
<text class="t n" x="798.55" y="2046.8">1<tspan dx="-1">.</tspan><tspan dx="-1">62</tspan></text>
<text class="t n" x="1021.51" y="2046.8">1<tspan dx="-1">.</tspan><tspan dx="-1">00</tspan></text>
<polygon points="313.2,2037.5 324.2,2016.5 298.2,2016.5" fill="#0000ff"/>
<text class="t n" x="1272.36" y="2046.8">0<tspan dx="-1">.</tspan><tspan dx="-1">53</tspan></text>
<text class="t n" x="1498.34" y="2046.8">60</text>
<text class="t n" x="1708.21" y="2046.8">1<tspan dx="-1">.</tspan><tspan dx="-1">21</tspan></text>
<text class="t n" x="1932.69" y="2046.8">0<tspan dx="-1">.</tspan><tspan dx="-1">99</tspan></text>
<polygon points="1225.4,2014 1226,2023.3 1235.9,2024.2 1231,2029.2 1230.2,2040 1224.8,2034.9 1215.3,2040 1215.1,2029.2 1209.9,2024.2 1220.1,2023.3" fill="#000000"/>
<text class="t n" x="363.36" y="2126.8">0<tspan dx="-1">.</tspan><tspan dx="-1">57</tspan></text>
<text class="t n" x="587.78" y="2126.8">39</text>
<text class="t n" x="798.55" y="2126.8">1<tspan dx="-1">.</tspan><tspan dx="-1">72</tspan></text>
<text class="t n" x="1021.51" y="2126.8">1<tspan dx="-1">.</tspan><tspan dx="-1">00</tspan></text>
<polygon points="312.8,2115.41 322.23,2097.6 300.17,2097.6" fill="none" stroke="#0000ff" stroke-width="2.2" stroke-linejoin="miter" stroke-miterlimit="6"/>
<text class="t n" x="1272.36" y="2126.8">0<tspan dx="-1">.</tspan><tspan dx="-1">54</tspan></text>
<text class="t n" x="1498.23" y="2126.8">86</text>
<text class="t n" x="1706.79" y="2126.8">1<tspan dx="-1">.</tspan><tspan dx="-1">84</tspan></text>
<text class="t n" x="1931.01" y="2126.8">1<tspan dx="-1">.</tspan><tspan dx="-1">00</tspan></text>
<polygon points="1225.25,2096.32 1225.77,2104.32 1234.28,2105.09 1230.07,2109.39 1229.38,2118.68 1224.73,2114.29 1216.56,2118.68 1216.39,2109.39 1211.92,2105.09 1220.69,2104.32" fill="none" stroke="#000000" stroke-width="2" stroke-linejoin="miter" stroke-miterlimit="6"/>
<text class="t n" x="363.36" y="2206.8">0<tspan dx="-1">.</tspan><tspan dx="-1">60</tspan></text>
<text class="t n" x="586.97" y="2206.8">34</text>
<text class="t n" x="797.74" y="2206.8">1<tspan dx="-1">.</tspan><tspan dx="-1">16</tspan></text>
<text class="t n" x="1023.19" y="2206.8">0<tspan dx="-1">.</tspan><tspan dx="-1">99</tspan></text>
<circle cx="311.2" cy="2187" r="11.1" fill="#ff00ff"/>
<text class="t n" x="1272.36" y="2206.8">0<tspan dx="-1">.</tspan><tspan dx="-1">60</tspan></text>
<text class="t n" x="1498.56" y="2206.8">51</text>
<text class="t n" x="1707.51" y="2206.8">1<tspan dx="-1">.</tspan><tspan dx="-1">18</tspan></text>
<text class="t n" x="1932.63" y="2206.8">0<tspan dx="-1">.</tspan><tspan dx="-1">95</tspan></text>
<polygon points="1225.1,2176.25 1235.9,2197.75 1209.9,2197.75" fill="#ff8000"/>
<text class="t n" x="363.36" y="2286.8">0<tspan dx="-1">.</tspan><tspan dx="-1">62</tspan></text>
<text class="t n" x="587.84" y="2286.8">68</text>
<text class="t n" x="798.01" y="2286.8">1<tspan dx="-1">.</tspan><tspan dx="-1">70</tspan></text>
<text class="t n" x="1023.1" y="2286.8">0<tspan dx="-1">.</tspan><tspan dx="-1">98</tspan></text>
<circle cx="311.2" cy="2267" r="10.1" fill="none" stroke="#ff00ff" stroke-width="2"/>
<text class="t n" x="1272.36" y="2286.8">0<tspan dx="-1">.</tspan><tspan dx="-1">62</tspan></text>
<text class="t n" x="1499.05" y="2286.8">82</text>
<text class="t n" x="1708.05" y="2286.8">1<tspan dx="-1">.</tspan><tspan dx="-1">62</tspan></text>
<text class="t n" x="1932.69" y="2286.8">0<tspan dx="-1">.</tspan><tspan dx="-1">99</tspan></text>
<polygon points="1224.7,2258.38 1233.95,2276.65 1211.85,2276.65" fill="none" stroke="#ff8000" stroke-width="2.2" stroke-linejoin="miter" stroke-miterlimit="6"/>
<text class="t n" x="363.36" y="2366.8">0<tspan dx="-1">.</tspan><tspan dx="-1">64</tspan></text>
<text class="t n" x="586.44" y="2366.8">13</text>
<text class="t n" x="799.83" y="2366.8">3<tspan dx="-1">.</tspan><tspan dx="-1">42</tspan></text>
<text class="t n" x="1022.8" y="2366.8">0<tspan dx="-1">.</tspan><tspan dx="-1">97</tspan></text>
<polygon points="311.2,2334 324.2,2347 311.2,2360 298.2,2347" fill="#009b27"/>
<text class="t n" x="1272.36" y="2366.8">0<tspan dx="-1">.</tspan><tspan dx="-1">68</tspan></text>
<text class="t n" x="1479.8" y="2366.8">119</text>
<text class="t n" x="1709.33" y="2366.8">3<tspan dx="-1">.</tspan><tspan dx="-1">22</tspan></text>
<text class="t n" x="1931.88" y="2366.8">0<tspan dx="-1">.</tspan><tspan dx="-1">94</tspan></text>
<rect x="1212.55" y="2336.65" width="20.7" height="20.7" fill="#7f0040"/>
<text class="t n" x="363.36" y="2446.8">0<tspan dx="-1">.</tspan><tspan dx="-1">66</tspan></text>
<text class="t n" x="588.62" y="2446.8">45</text>
<text class="t n" x="799.93" y="2446.8">4<tspan dx="-1">.</tspan><tspan dx="-1">76</tspan></text>
<text class="t n" x="1023.19" y="2446.8">0<tspan dx="-1">.</tspan><tspan dx="-1">99</tspan></text>
<polygon points="311.2,2415.56 322.64,2427 311.2,2438.44 299.76,2427" fill="none" stroke="#009b27" stroke-width="2.2" stroke-linejoin="miter" stroke-miterlimit="6"/>
<text class="t n" x="1272.36" y="2446.8">0<tspan dx="-1">.</tspan><tspan dx="-1">70</tspan></text>
<text class="t n" x="1479.44" y="2446.8">186</text>
<text class="t n" x="1709.4" y="2446.8">4<tspan dx="-1">.</tspan><tspan dx="-1">67</tspan></text>
<text class="t n" x="1932.63" y="2446.8">0<tspan dx="-1">.</tspan><tspan dx="-1">95</tspan></text>
<rect x="1213.9" y="2418" width="18" height="18" fill="none" stroke="#7f0040" stroke-width="2"/>
<text class="t n" x="132.06" y="2086.8">2</text>
<text class="t n" x="112.91" y="2246.8">10</text>
<text class="t n" x="114.19" y="2406.8">30</text>
</svg></body></html>
